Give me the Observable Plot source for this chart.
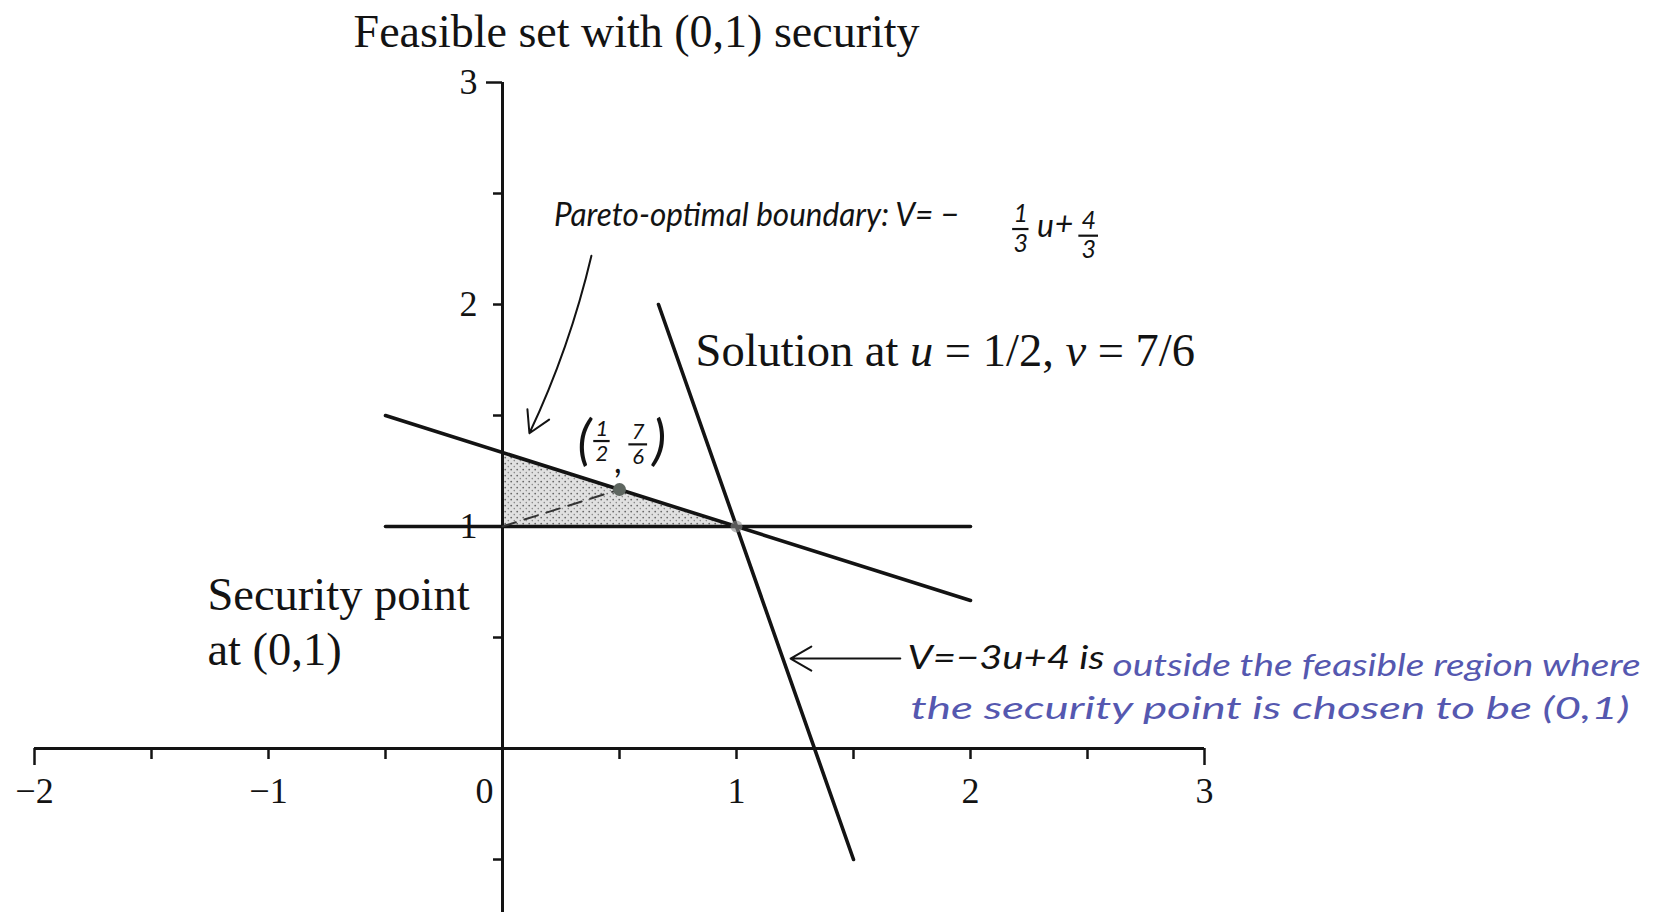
<!DOCTYPE html>
<html>
<head>
<meta charset="utf-8">
<script src="https://cdn.jsdelivr.net/npm/d3@7"></script>
<script src="https://cdn.jsdelivr.net/npm/@observablehq/plot@0.6"></script>
<style>
  body { margin: 0; background: #fff; }
</style>
</head>
<body>
<div id="chart"></div>
<script>
// Bargaining problem: feasible set with security point (0,1)
const paretoU = [-0.5, 2];          // v = -u/3 + 4/3
const paretoV = [1.5, 2 / 3];
const steepU = [2 / 3, 1.5];        // v = -3u + 4
const steepV = [2, -0.5];
const securityLineU = [-0.5, 2];    // v = 1
const securityLineV = [1, 1];
const feasibleU = [0, 1];           // shaded triangle: lower edge v = 1, upper edge the Pareto line
const feasibleLow = [1, 1];
const feasibleHigh = [4 / 3, 1];
const solutionU = 1 / 2;
const solutionV = 7 / 6;
const securityU = 0;
const securityV = 1;

const xTicks = [-2, -1.5, -1, -0.5, 0.5, 1, 1.5, 2, 2.5, 3];
const xLabelValues = [-2, -1, 1, 2, 3];
const xLabelTexts = ["−2", "−1", "1", "2", "3"];
const originLabel = "0";
const yTicks = [-0.5, 0.5, 1, 1.5, 2, 2.5, 3];
const yLabelValues = [1, 2, 3];
const yLabelTexts = ["1", "2", "3"];

const titleText = "Feasible set with (0,1) security";
const solutionText = "Solution at u = 1/2, v = 7/6";
const securityText = "Security point\nat (0,1)";
const paretoNote = "Pareto-optimal boundary: V= −";
const steepNote = "V=−3u+4 is";
const blueNote1 = "outside the feasible region where";
const blueNote2 = "the security point is chosen to be (0,1)";

// plot window in data units
const W = 1664, H = 912;
const xDomain = [-2.1453, 4.9658];
const yDomain = [-0.7387, 3.3694];
const pxU = W / (xDomain[1] - xDomain[0]);   // pixels per unit in u
const pxV = H / (yDomain[1] - yDomain[0]);   // pixels per unit in v

const ink = "#131313";
const blue = "#5558b0";
const serif = "Liberation Serif";
const hand = "Lato";

const line = (us, vs) => us.map((u, i) => ({u, v: vs[i]}));
const one = (o) => [o];

// a stacked handwritten fraction
function fraction(u, v, num, den, size, gap, barHalf, color) {
  const style = {x: "u", y: "v", text: "t", fontSize: size, fontFamily: hand, fontStyle: "italic", fill: color};
  return [
    Plot.text(one({u, v: v + gap, t: num}), style),
    Plot.text(one({u, v: v - gap, t: den}), style),
    Plot.ruleY(one({u, v}), {y: "v", x1: d => d.u - barHalf, x2: d => d.u + barHalf, stroke: color, strokeWidth: 2.2})
  ];
}

const handText = (t, x, y, size, color, anchor = "start") =>
  Plot.text([t], {x, y, text: d => d, textAnchor: anchor, fontFamily: hand, fontStyle: "italic", fontSize: size, fill: color});

const chart = Plot.plot({
  width: W,
  height: H,
  margin: 0,
  x: {domain: xDomain, axis: null},
  y: {domain: yDomain, axis: null},
  style: {background: "#fff"},
  marks: [
    // shaded feasible region
    Plot.areaY(feasibleU.map((u, i) => ({u, lo: feasibleLow[i], hi: feasibleHigh[i]})),
      {x: "u", y1: "lo", y2: "hi", fill: "#d9d9d9"}),

    // axes
    Plot.ruleY([0], {x1: -2, x2: 3, stroke: ink, strokeWidth: 3}),
    Plot.ruleX([0], {y1: yDomain[0], y2: 3, stroke: ink, strokeWidth: 3}),
    Plot.ruleX(xTicks, {x: d => d, y1: 0, y2: d => -(d === -2 || d === 3 ? 17 : 11) / pxV, stroke: ink, strokeWidth: 2.5}),
    Plot.ruleY(yTicks, {y: d => d, x1: 0, x2: d => -(d === 3 ? 16 : 9) / pxU, stroke: ink, strokeWidth: 2.5}),
    Plot.text(xLabelValues, {x: d => d, y: 0, text: (d, i) => xLabelTexts[i], dy: 43,
      fontFamily: serif, fontSize: 36, fill: ink}),
    Plot.text([originLabel], {x: 0, y: 0, text: d => d, dy: 43, dx: -18, fontFamily: serif, fontSize: 36, fill: ink}),
    Plot.text(yLabelValues, {x: 0, y: d => d, text: (d, i) => yLabelTexts[i], dx: -25, textAnchor: "end",
      fontFamily: serif, fontSize: 36, fill: ink}),

    // the three lines
    Plot.line(line(securityLineU, securityLineV), {x: "u", y: "v", stroke: ink, strokeWidth: 3.6}),
    Plot.line(line(paretoU, paretoV), {x: "u", y: "v", stroke: ink, strokeWidth: 3.6}),
    Plot.line(line(steepU, steepV), {x: "u", y: "v", stroke: ink, strokeWidth: 3.6}),

    // from the security point to the solution
    Plot.line([{u: securityU, v: securityV}, {u: solutionU, v: solutionV}],
      {x: "u", y: "v", stroke: "#333", strokeWidth: 2, strokeDasharray: "14,9"}),
    Plot.dot([{u: 1, v: 1}], {x: "u", y: "v", r: 6, fill: "#8a8a8a", fillOpacity: 0.6}),
    Plot.dot([{u: solutionU, v: solutionV}], {x: "u", y: "v", r: 6.5, fill: "#5e6660"}),

    // printed labels
    Plot.text([titleText], {x: 0.573, y: 3.225, text: d => d, fontFamily: serif, fontSize: 46, fill: ink}),
    Plot.text([solutionText], {x: 0.825, y: 1.79, text: d => d, textAnchor: "start", fontFamily: serif, fontSize: 46.5, fill: ink}),
    Plot.text([securityText], {x: -1.261, y: 0.58, text: d => d, textAnchor: "start", lineHeight: 1.2, fontFamily: serif, fontSize: 46.5, fill: ink}),

    // handwritten note on the Pareto boundary
    handText(paretoNote, 0.22, 2.40, 32, ink),
    ...fraction(2.215, 2.34, "1", "3", 25, 0.066, 0.035, ink),
    handText("u", 2.32, 2.35, 32, ink, "middle"),
    handText("+", 2.40, 2.36, 32, ink, "middle"),
    ...fraction(2.505, 2.31, "4", "3", 25, 0.066, 0.042, ink),
    Plot.arrow([{x1: 0.38, y1: 2.22, x2: 0.115, y2: 1.42}], {x1: "x1", y1: "y1", x2: "x2", y2: "y2", bend: 6, headLength: 18, stroke: ink, strokeWidth: 2}),

    // handwritten label of the solution point
    handText("(", 0.35, 1.38, 54, ink, "middle"),
    ...fraction(0.425, 1.385, "1", "2", 22, 0.056, 0.035, ink),
    handText(",", 0.497, 1.29, 34, ink, "middle"),
    ...fraction(0.58, 1.37, "7", "6", 22, 0.056, 0.04, ink),
    handText(")", 0.67, 1.38, 54, ink, "middle"),

    // note on the line v = -3u + 4
    Plot.arrow([{x1: 1.70, y1: 0.405, x2: 1.231, y2: 0.405}], {x1: "x1", y1: "y1", x2: "x2", y2: "y2", headLength: 18, stroke: ink, strokeWidth: 2}),
    handText(steepNote, 1.731, 0.405, 32, ink),
    handText(blueNote1, 2.607, 0.37, 30, blue),
    handText(blueNote2, 1.744, 0.176, 30, blue)
  ]
});

const ns = "http://www.w3.org/2000/svg";

// stippled fill for the feasible set
const defs = document.createElementNS(ns, "defs");
defs.innerHTML = `<pattern id="stipple" width="6" height="6" patternUnits="userSpaceOnUse">
  <rect width="6" height="6" fill="#e0e0e0"/>
  <circle cx="1.2" cy="1.6" r="0.9" fill="#666"/>
  <circle cx="4.3" cy="4.6" r="0.8" fill="#888"/>
</pattern>`;
chart.prepend(defs);
chart.querySelectorAll('[fill="#d9d9d9"]').forEach(el => el.setAttribute("fill", "url(#stipple)"));

// handwriting is wide: stretch each note to its written width (px)
const writtenWidth = new Map([[paretoNote, 405], [steepNote, 197], [blueNote1, 528], [blueNote2, 719]]);

chart.querySelectorAll("text").forEach(el => {
  const t = el.textContent;
  if (writtenWidth.has(t)) {
    el.setAttribute("textLength", writtenWidth.get(t));
    el.setAttribute("lengthAdjust", "spacingAndGlyphs");
  }
  // italic variables in the solution label
  if (t === solutionText) {
    el.textContent = "";
    [["Solution at ", false], ["u", true], [" = 1/2, ", false], ["v", true], [" = 7/6", false]].forEach(([s, it]) => {
      const span = document.createElementNS(ns, "tspan");
      span.textContent = s;
      if (it) span.setAttribute("font-style", "italic");
      el.appendChild(span);
    });
  }
});

document.getElementById("chart").appendChild(chart);
</script>
</body>
</html>
